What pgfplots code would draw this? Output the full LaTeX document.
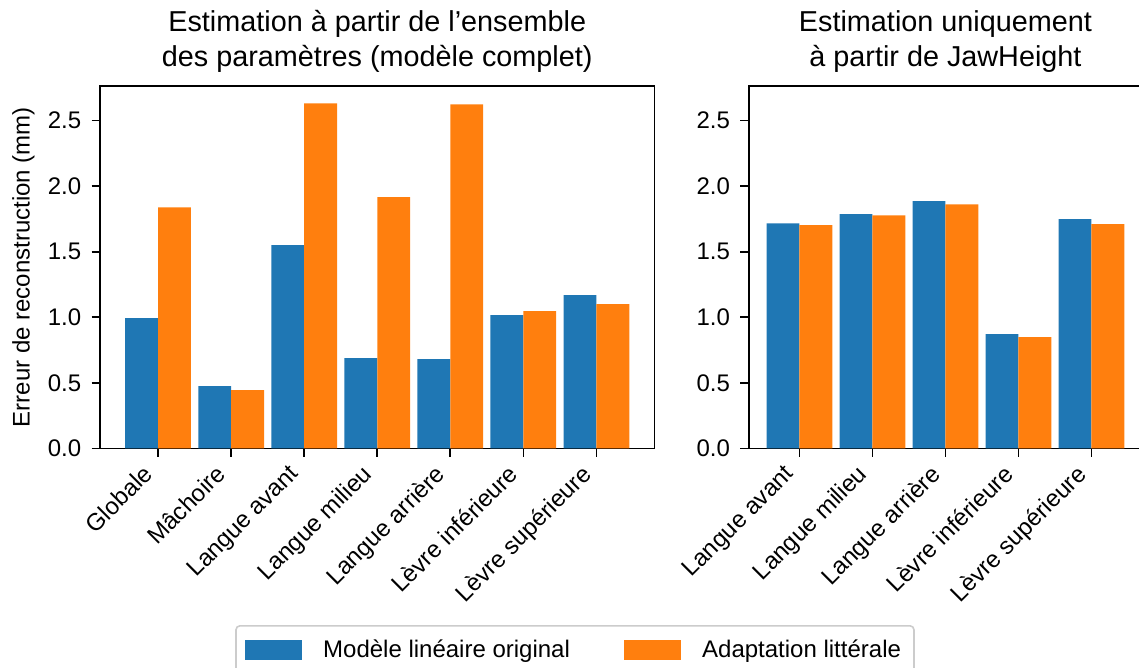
\documentclass[border=0pt]{standalone}
\usepackage{fontspec}
\setmainfont{Liberation Sans}
\usepackage{pgfplots}
\pgfplotsset{compat=1.18}
\definecolor{tabblue}{HTML}{1F77B4}
\definecolor{taborange}{HTML}{FF7F0E}
\definecolor{leggray}{HTML}{CCCCCC}
\pgfplotsset{
  mystyle/.style={
    scale only axis, height=181.25pt,
    ymin=0, ymax=2.7636,
    ytick={0,0.5,1,1.5,2,2.5},
    tick align=outside, xtick pos=bottom, ytick pos=left,
    major tick length=4.2pt,
    axis line style={line width=0.85pt},
    every tick/.style={black, line width=0.85pt},
    tick label style={font=\fontsize{12}{14}\selectfont},
    /pgf/number format/assume math mode=true,
    yticklabel style={/pgf/number format/fixed, /pgf/number format/fixed zerofill, /pgf/number format/precision=1},
    yticklabel style={anchor=east, inner sep=0pt, xshift=-5pt},
    xticklabel style={inner sep=0pt, xshift=-8.2pt, yshift=-3pt, rotate=45, anchor=north east},
    title style={font=\fontsize{14.4}{17.5}\selectfont, align=center, at={(0.5,1)}, anchor=south, inner sep=0pt, yshift=0.8pt},
  }
}
\begin{document}
\begin{tikzpicture}
\begin{axis}[mystyle, at={(50pt,109.75pt)}, anchor=south west, width=277.25pt,
  xmin=-0.795, xmax=6.795,
  xtick={0,1,2,3,4,5,6},
  xticklabels={Globale, Mâchoire, Langue avant, Langue milieu, Langue arrière, Lèvre inférieure, Lèvre supérieure},
  title={Estimation à partir de l'ensemble\\des paramètres (modèle complet)},
  ylabel={Erreur de reconstruction (mm)},
  every axis y label/.style={at={(axis description cs:0,0.5)}, xshift=-38.3pt, rotate=90, anchor=center, inner sep=0pt, font=\fontsize{12}{14}\selectfont},
  legend columns=2, legend cell align=left,
  legend style={at={(axis description cs:0.8566,-0.4869)}, anchor=north, draw=leggray, rounded corners=2pt, line width=0.8pt,
    font=\fontsize{12}{14}\selectfont, inner xsep=4.5pt, inner ysep=5pt, column sep=8.8pt,
    /tikz/every even column/.append style={column sep=25pt}},
]
\addplot[ybar, bar width=0.45, bar shift=-0.225, fill=tabblue, draw=none, forget plot] coordinates {
(0,0.993) (1,0.475) (2,1.550) (3,0.689) (4,0.681) (5,1.016) (6,1.169)};
\addplot[ybar, bar width=0.45, bar shift=0.225, fill=taborange, draw=none, forget plot] coordinates {
(0,1.839) (1,0.445) (2,2.632) (3,1.916) (4,2.624) (5,1.047) (6,1.100)};
\addlegendimage{legend image code/.code={\fill[tabblue, sharp corners] (0pt,-4.75pt) rectangle (27.5pt,4.75pt);}}
\addlegendentry{Modèle linéaire original}
\addlegendimage{legend image code/.code={\fill[taborange, sharp corners] (0pt,-4.75pt) rectangle (27.5pt,4.75pt);}}
\addlegendentry{Adaptation littérale}
\end{axis}
\begin{axis}[mystyle, at={(374.35pt,109.75pt)}, anchor=south west, width=196.75pt,
  xmin=-0.695, xmax=4.695,
  xtick={0,1,2,3,4},
  xticklabels={Langue avant, Langue milieu, Langue arrière, Lèvre inférieure, Lèvre supérieure},
  title={Estimation uniquement\\à partir de JawHeight},
]
\addplot[ybar, bar width=0.45, bar shift=-0.225, fill=tabblue, draw=none] coordinates {
(0,1.717) (1,1.786) (2,1.885) (3,0.871) (4,1.748)};
\addplot[ybar, bar width=0.45, bar shift=0.225, fill=taborange, draw=none] coordinates {
(0,1.702) (1,1.778) (2,1.862) (3,0.849) (4,1.710)};
\end{axis}
\pgfresetboundingbox
\path (0pt,0pt) rectangle (569.5pt,334pt);
\end{tikzpicture}
\end{document}
